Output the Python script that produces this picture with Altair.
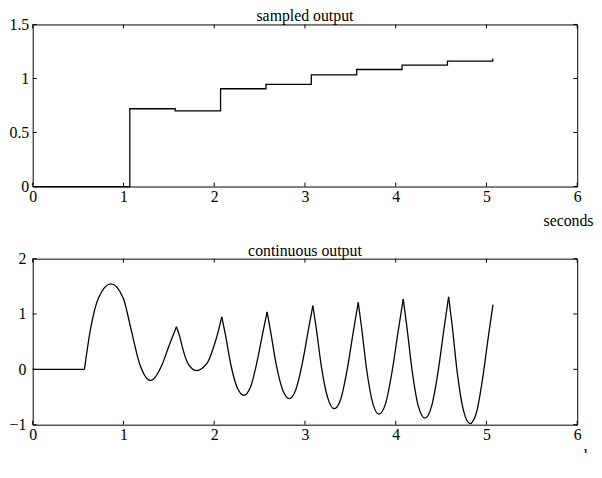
import altair as alt
import pandas as pd

FONT = "Liberation Serif"

# ---------------- data ----------------
x_ticks = [0, 1, 2, 3, 4, 5, 6]
top_y_ticks = [0, 0.5, 1, 1.5]
bot_y_ticks = [-1, 0, 1, 2]

# sampled output (zero-order hold, step after each sample time)
samp_t = [0.0, 1.07, 1.57, 2.07, 2.57, 3.07, 3.57, 4.07, 4.57, 5.07]
samp_y = [0.0, 0.72, 0.70, 0.905, 0.945, 1.033, 1.083, 1.123, 1.16, 1.185]

# continuous output, split into smooth pieces between kinks / cusps
seg0_t = [0.0, 0.57]
seg0_y = [0.0, 0.0]
seg1_t = [0.57, 0.634, 0.725, 0.862, 0.997, 1.087, 1.177, 1.30, 1.431, 1.496, 1.584]
seg1_y = [0.0, 0.70, 1.29, 1.545, 1.29, 0.70, 0.107, -0.20, 0.107, 0.40, 0.77]
seg2_t = [1.584, 1.619, 1.649, 1.71, 1.804, 1.92, 1.993, 2.047, 2.083]
seg2_y = [0.77, 0.60, 0.40, 0.107, -0.024, 0.107, 0.40, 0.70, 0.95]
seg3_t = [2.083, 2.122, 2.180, 2.253, 2.326, 2.398, 2.467, 2.532, 2.583]
seg3_y = [0.95, 0.64, 0.11, -0.33, -0.47, -0.33, 0.10, 0.63, 1.04]
seg4_t = [2.583, 2.620, 2.681, 2.754, 2.826, 2.899, 2.971, 3.036, 3.087]
seg4_y = [1.04, 0.70, 0.107, -0.37, -0.53, -0.37, 0.107, 0.70, 1.15]
seg5_t = [3.087, 3.125, 3.181, 3.252, 3.322, 3.396, 3.468, 3.534, 3.587]
seg5_y = [1.15, 0.74, 0.05, -0.52, -0.71, -0.53, 0.02, 0.69, 1.21]
seg6_t = [3.587, 3.623, 3.678, 3.747, 3.815, 3.890, 3.962, 4.029, 4.083]
seg6_y = [1.21, 0.77, 0.02, -0.61, -0.81, -0.61, -0.02, 0.71, 1.27]
seg7_t = [4.083, 4.121, 4.179, 4.250, 4.322, 4.395, 4.466, 4.531, 4.583]
seg7_y = [1.27, 0.80, 0.00, -0.67, -0.88, -0.67, -0.05, 0.72, 1.31]
seg8_t = [4.583, 4.621, 4.677, 4.748, 4.819, 4.890, 4.958, 5.021, 5.072]
seg8_y = [1.31, 0.81, -0.04, -0.75, -0.98, -0.78, -0.16, 0.59, 1.17]

segs_t = [seg0_t, seg1_t, seg2_t, seg3_t, seg4_t, seg5_t, seg6_t, seg7_t, seg8_t]
segs_y = [seg0_y, seg1_y, seg2_y, seg3_y, seg4_y, seg5_y, seg6_y, seg7_y, seg8_y]

rows = []
for i, (ts, ys) in enumerate(zip(segs_t, segs_y)):
    for t, y in zip(ts, ys):
        rows.append({"seg": i, "t": t, "y": y})
cont_df = pd.DataFrame(rows)
samp_df = pd.DataFrame({"t": samp_t, "y": samp_y})


def panel(df, line_kwargs, detail, W, H, ydom, yticks, title, ylabpad, sec_y):
    xs = alt.Scale(domain=[0, 6], nice=False, zero=False)
    ys = alt.Scale(domain=ydom, nice=False, zero=False)
    xaxis = alt.Axis(values=x_ticks, format="d", title="seconds",
                     titleFont=FONT, titleFontSize=16, titleFontWeight="normal",
                     titleColor="black", titleX=W + 16, titleY=sec_y,
                     titleAlign="right", titleBaseline="alphabetic",
                     labelFont=FONT, labelFontSize=16, labelColor="black",
                     labelPadding=2, labelFlush=False, labelOverlap=False,
                     ticks=False, domain=False, grid=False)
    yaxis = alt.Axis(values=yticks, format="~g", title=None,
                     labelFont=FONT, labelFontSize=16, labelColor="black",
                     labelPadding=ylabpad, labelFlush=False, labelOverlap=False,
                     ticks=False, domain=False, grid=False)
    enc = dict(x=alt.X("t:Q", scale=xs, axis=xaxis),
               y=alt.Y("y:Q", scale=ys, axis=yaxis))
    if detail:
        enc["detail"] = "seg:N"
    line = alt.Chart(df).mark_line(color="black", strokeWidth=1.3,
                                   **line_kwargs).encode(**enc)
    xdf = pd.DataFrame({"t": x_ticks})
    ydf = pd.DataFrame({"y": yticks})
    tx = alt.X("t:Q", scale=xs)
    ty = alt.Y("y:Q", scale=ys)
    rule = dict(color="black", strokeWidth=1)
    bottom = alt.Chart(xdf).mark_rule(**rule).encode(x=tx, y=alt.value(H), y2=alt.value(H - 4))
    top = alt.Chart(xdf).mark_rule(**rule).encode(x=tx, y=alt.value(0), y2=alt.value(4))
    left = alt.Chart(ydf).mark_rule(**rule).encode(y=ty, x=alt.value(0), x2=alt.value(4))
    right = alt.Chart(ydf).mark_rule(**rule).encode(y=ty, x=alt.value(W), x2=alt.value(W - 4))
    ttl = alt.Chart(pd.DataFrame({"label": [title]})).mark_text(
        font=FONT, fontSize=16, color="black", align="center",
        baseline="alphabetic").encode(
        text="label:N", x=alt.value(W / 2), y=alt.value(-3))
    return alt.layer(line, bottom, top, left, right, ttl).properties(width=W, height=H)


top_panel = panel(samp_df, {"interpolate": "step-after"}, False, 551, 164,
                  [0, 1.5], top_y_ticks, "sampled output", 4, 39)
bot_panel = panel(cont_df, {"interpolate": "monotone"}, True, 551, 168,
                  [-1, 2], bot_y_ticks, "continuous output", 7, 36)

chart = alt.vconcat(top_panel, bot_panel, spacing=13).properties(
    padding={"left": 0, "top": -3, "right": 0, "bottom": -14},
    background="white",
).configure_view(
    stroke="black", strokeWidth=1
).configure_axis(
    labelFont=FONT, titleFont=FONT, labelFontSize=16, titleFontSize=16,
    labelColor="black", titleColor="black"
)

chart.save("out.html", embed_options={"renderer": "svg", "actions": False})
